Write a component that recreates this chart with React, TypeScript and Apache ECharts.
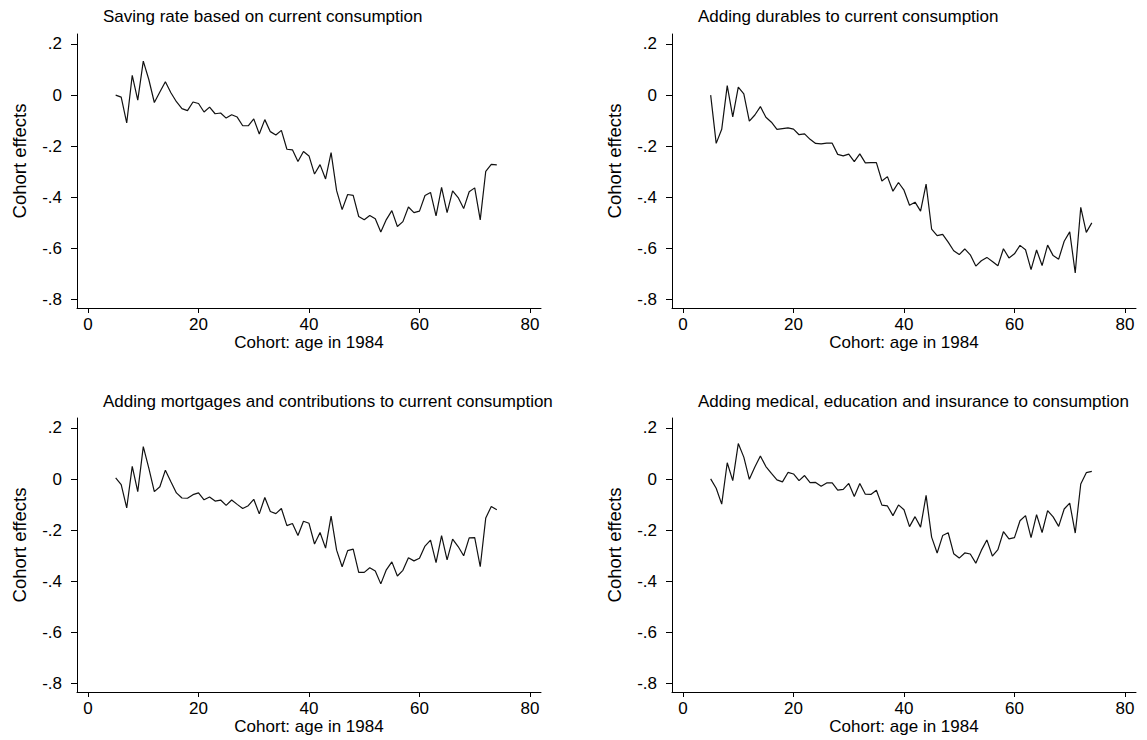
import React, { useEffect, useRef } from 'react';
import * as echarts from 'echarts';

const ages = [
  5, 6, 7, 8, 9, 10, 11, 12, 13, 14, 15, 16, 17, 18, 19, 20, 21, 22, 23, 24,
  25, 26, 27, 28, 29, 30, 31, 32, 33, 34, 35, 36, 37, 38, 39, 40, 41, 42, 43, 44,
  45, 46, 47, 48, 49, 50, 51, 52, 53, 54, 55, 56, 57, 58, 59, 60, 61, 62, 63, 64,
  65, 66, 67, 68, 69, 70, 71, 72, 73, 74,
];

const savingCurrent = [
  0.0, -0.008, -0.109, 0.077, -0.02, 0.133, 0.061, -0.029, 0.012, 0.052,
  0.009, -0.026, -0.053, -0.061, -0.027, -0.033, -0.066, -0.047, -0.073, -0.07,
  -0.09, -0.077, -0.086, -0.12, -0.12, -0.093, -0.152, -0.096, -0.143, -0.156,
  -0.138, -0.212, -0.214, -0.26, -0.221, -0.238, -0.309, -0.272, -0.328, -0.225,
  -0.374, -0.448, -0.389, -0.392, -0.475, -0.488, -0.471, -0.484, -0.536, -0.487,
  -0.452, -0.514, -0.495, -0.438, -0.46, -0.454, -0.393, -0.381, -0.473, -0.361,
  -0.46, -0.375, -0.401, -0.444, -0.378, -0.363, -0.488, -0.298, -0.271, -0.273,
];

const addingDurables = [
  0.0, -0.189, -0.134, 0.037, -0.085, 0.031, 0.005, -0.102, -0.078, -0.045,
  -0.087, -0.106, -0.134, -0.131, -0.128, -0.133, -0.155, -0.152, -0.173, -0.189,
  -0.191, -0.188, -0.188, -0.232, -0.238, -0.231, -0.26, -0.23, -0.265, -0.264,
  -0.264, -0.336, -0.319, -0.376, -0.342, -0.372, -0.431, -0.419, -0.454, -0.348,
  -0.524, -0.55, -0.545, -0.575, -0.609, -0.624, -0.602, -0.625, -0.669, -0.648,
  -0.635, -0.651, -0.668, -0.601, -0.637, -0.621, -0.588, -0.605, -0.683, -0.606,
  -0.667, -0.587, -0.628, -0.642, -0.572, -0.535, -0.696, -0.439, -0.537, -0.5,
];

const addingMortgages = [
  0.005, -0.022, -0.113, 0.05, -0.049, 0.127, 0.043, -0.049, -0.03, 0.035,
  -0.01, -0.054, -0.074, -0.075, -0.061, -0.054, -0.081, -0.07, -0.086, -0.082,
  -0.103, -0.082, -0.099, -0.115, -0.104, -0.079, -0.136, -0.072, -0.127, -0.135,
  -0.115, -0.182, -0.174, -0.221, -0.165, -0.173, -0.254, -0.209, -0.27, -0.145,
  -0.278, -0.343, -0.28, -0.274, -0.365, -0.365, -0.347, -0.36, -0.41, -0.355,
  -0.324, -0.379, -0.357, -0.308, -0.32, -0.31, -0.262, -0.239, -0.327, -0.221,
  -0.316, -0.235, -0.264, -0.3, -0.23, -0.229, -0.343, -0.152, -0.107, -0.12,
];

const addingMedical = [
  0.001, -0.036, -0.098, 0.064, -0.006, 0.139, 0.086, -0.001, 0.047, 0.09,
  0.049, 0.022, -0.003, -0.011, 0.026, 0.02, -0.006, 0.014, -0.014, -0.013,
  -0.028, -0.015, -0.015, -0.043, -0.04, -0.017, -0.068, -0.017, -0.059, -0.06,
  -0.044, -0.102, -0.105, -0.143, -0.101, -0.12, -0.186, -0.147, -0.188, -0.064,
  -0.227, -0.289, -0.221, -0.21, -0.292, -0.309, -0.289, -0.293, -0.329, -0.279,
  -0.238, -0.301, -0.276, -0.206, -0.234, -0.229, -0.163, -0.143, -0.229, -0.139,
  -0.209, -0.123, -0.148, -0.185, -0.117, -0.094, -0.211, -0.019, 0.025, 0.03,
];

const panelTitles = [
  'Saving rate based on current consumption',
  'Adding durables to current consumption',
  'Adding mortgages and contributions to current consumption',
  'Adding medical, education and insurance to consumption',
];

const xTicks = [0, 20, 40, 60, 80];
const yTicks = [-0.8, -0.6, -0.4, -0.2, 0, 0.2];
const xAxisTitle = 'Cohort: age in 1984';
const yAxisTitle = 'Cohort effects';

const FONT = 'Liberation Sans, Arial, Helvetica, sans-serif';
const INK = '#000';

const fmtY = (v: number) => {
  if (Math.abs(v) < 1e-9) return '0';
  const s = Math.abs(v).toFixed(1).replace(/^0/, '');
  return (v < 0 ? '-' : '') + s;
};

export default function App() {
  const ref = useRef<HTMLDivElement>(null);

  useEffect(() => {
    if (!ref.current) return;
    const chart = echarts.init(ref.current, undefined, { renderer: 'svg' });

    const seriesData = [savingCurrent, addingDurables, addingMortgages, addingMedical];
    const lefts = [77, 672, 77, 672];
    const tops = [34, 34, 418, 418];
    const titleTops = [7.5, 7.5, 393, 393];
    const W = 464;
    const H = 274;

    const grid = lefts.map((l, i) => ({ left: l, top: tops[i], width: W, height: H, containLabel: false }));

    const xAxis = lefts.map((_, i) => ({
      type: 'value',
      gridIndex: i,
      min: -2,
      max: 82,
      position: 'bottom',
      splitLine: { show: false },
      axisLine: { show: true, onZero: false, lineStyle: { color: INK, width: 1 } },
      axisTick: { show: true, length: 5, lineStyle: { color: INK }, customValues: xTicks },
      axisLabel: { show: true, margin: 8, fontSize: 17, fontFamily: FONT, color: INK, customValues: xTicks },
      name: xAxisTitle,
      nameLocation: 'middle',
      nameGap: 24,
      nameTextStyle: { fontSize: 17, fontFamily: FONT, color: INK, verticalAlign: 'top' },
    }));

    const yAxis = lefts.map((_, i) => ({
      type: 'value',
      gridIndex: i,
      min: -0.833,
      max: 0.239,
      position: 'left',
      splitLine: { show: false },
      axisLine: { show: true, onZero: false, lineStyle: { color: INK, width: 1 } },
      axisTick: { show: true, length: 6, lineStyle: { color: INK }, customValues: yTicks },
      axisLabel: {
        show: true,
        margin: 15,
        fontSize: 17,
        fontFamily: FONT,
        color: INK,
        customValues: yTicks,
        formatter: (v: number) => fmtY(v),
      },
    }));

    const series = seriesData.map((vals, i) => ({
      type: 'line',
      xAxisIndex: i,
      yAxisIndex: i,
      data: ages.map((a, j) => [a, vals[j]]),
      showSymbol: false,
      symbol: 'none',
      silent: true,
      lineStyle: { color: '#111', width: 1.2 },
    }));

    const graphic: any[] = [];
    lefts.forEach((l, i) => {
      graphic.push({
        type: 'text',
        x: l + 26,
        y: titleTops[i],
        style: {
          text: panelTitles[i],
          font: `17px ${FONT}`,
          fill: INK,
          textAlign: 'left',
          textVerticalAlign: 'top',
        },
      });
      graphic.push({
        type: 'text',
        x: l - 58,
        y: tops[i] + 127,
        rotation: Math.PI / 2,
        style: {
          text: yAxisTitle,
          font: `18.5px ${FONT}`,
          fill: INK,
          textAlign: 'center',
          textVerticalAlign: 'middle',
        },
      });
    });

    chart.setOption({
      animation: false,
      backgroundColor: '#fff',
      grid,
      xAxis,
      yAxis,
      series,
      graphic,
    });

    return () => chart.dispose();
  }, []);

  return (
    <div
      ref={ref}
      style={{ position: 'absolute', left: 0, top: 0, width: 1147, height: 740 }}
    />
  );
}
